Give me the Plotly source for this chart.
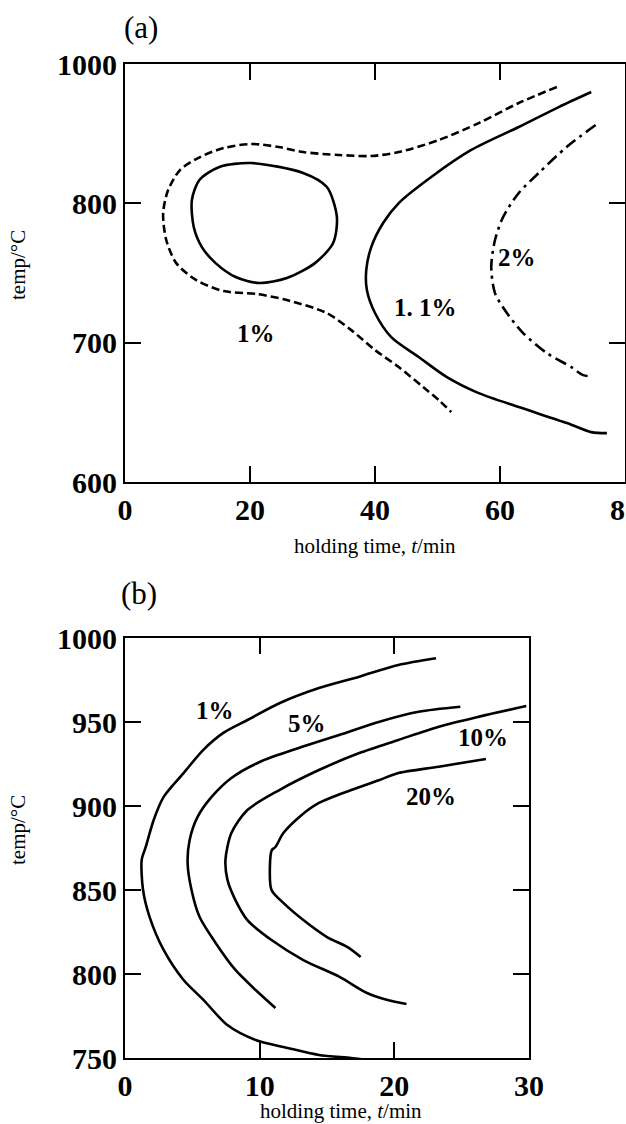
import plotly.graph_objects as go

# ---------------- Panel (a) data ----------------
# 1% dashed iso-line
a_1pct_t = [69.1, 63.0, 56.6, 50.2, 43.8, 39.4, 34.2, 28.5, 24.6, 20.2, 15.8, 12.0, 8.8, 6.9, 6.1, 6.6,
            8.2, 11.4, 15.8, 21.1, 25.9, 32.3, 36.2, 40.0, 43.8, 47.7, 50.2, 52.2]
a_1pct_T = [883.5, 872.0, 857.6, 845.4, 836.8, 834.0, 834.7, 836.8, 840.4, 842.6, 839.7, 833.2, 823.9, 809.5, 793.0, 773.7,
            757.1, 744.9, 737.0, 734.9, 730.6, 721.2, 709.0, 694.7, 682.5, 668.1, 658.8, 650.2]
# closed solid island
a_loop_t = [20.2, 28.5, 32.3, 33.9, 33.3, 30.4, 25.9, 21.5, 17.7, 14.5, 12.3, 11.0, 10.7, 11.9, 15.1, 20.2]
a_loop_T = [828.9, 821.8, 811.7, 790.2, 771.5, 757.1, 746.4, 742.8, 747.1, 757.1, 768.6, 783.0, 802.4, 816.7, 826.1, 828.9]
# 1.1% solid
a_11pct_t = [74.6, 69.4, 63.0, 55.4, 49.0, 43.8, 41.3, 39.4, 38.6, 38.7, 40.0, 42.6, 47.0, 51.5, 56.6, 63.0, 70.7, 74.6, 77.1]
a_11pct_T = [879.9, 869.1, 854.8, 838.3, 818.9, 800.2, 785.9, 768.6, 752.1, 737.8, 721.3, 704.0, 689.7, 675.3, 663.8, 653.8, 642.3, 635.8, 635.1]
# 2% dash-dot
a_2pct_t = [75.3, 70.7, 66.2, 63.0, 60.5, 59.2, 58.6, 59.2, 61.1, 63.7, 67.5, 71.4, 73.3, 74.7]
a_2pct_T = [856.2, 840.6, 821.8, 807.4, 790.2, 773.7, 754.3, 735.6, 721.3, 706.9, 692.5, 682.5, 676.7, 676.0]

a_labels = ["2%", "1. 1%", "1%"]
a_label_t = [62.7, 48.0, 20.9]
a_label_T = [761.4, 725.6, 706.9]

a_xticks = [0, 20, 40, 60, 80]
a_yticks = [600, 700, 800, 900]
a_yticktext = ["600", "700", "800", "1000"]

# ---------------- Panel (b) data ----------------
b_1_t = [23.1, 20.3, 17.4, 14.4, 11.5, 9.1, 7.3, 5.8, 4.35, 2.87, 2.13, 1.54, 1.24, 1.34, 1.83, 2.87, 4.35, 5.84,
         7.6, 9.7, 12.06, 14.4, 16.8, 18.0]
b_1_T = [987.9, 983.9, 977.0, 970.2, 961.3, 951.2, 943.5, 933.3, 919.6, 905.4, 891.7, 875.6, 867.9, 850.0, 833.9, 814.3,
         796.4, 784.5, 769.6, 760.7, 756.0, 751.8, 750.0, 748.8]
b_5_t = [24.9, 21.8, 18.9, 15.9, 12.9, 10.0, 7.9, 6.43, 5.39, 4.80, 4.65, 4.94, 5.54, 6.73, 8.2, 9.7, 11.17]
b_5_T = [959.1, 956.1, 950.2, 942.3, 934.5, 926.2, 916.7, 905.4, 893.5, 879.8, 866.1, 850.0, 833.9, 818.5, 802.4, 790.5, 779.8]
b_10_t = [29.8, 26.3, 23.3, 20.3, 17.4, 14.4, 11.46, 9.09, 7.9, 7.46, 7.61, 8.2, 9.09, 10.88, 13.24, 15.9, 17.97, 19.5, 20.9]
b_10_T = [959.5, 953.2, 947.2, 939.3, 931.5, 921.4, 909.5, 897.6, 883.9, 867.9, 856.0, 844.0, 832.1, 820.2, 808.3, 798.4,
          788.7, 784.5, 782.1]
b_20_t = [26.8, 23.3, 20.3, 18.9, 16.8, 14.4, 12.95, 11.76, 11.17, 10.9, 10.76, 10.88, 11.76, 13.24, 15.0, 16.5, 17.5]
b_20_T = [928.0, 923.4, 919.6, 915.5, 909.5, 901.8, 893.5, 883.9, 875.6, 873.8, 863.7, 850.0, 842.3, 832.1, 822.0, 816.1, 810.1]

b_labels = ["1%", "5%", "10%", "20%"]
b_label_t = [6.7, 13.5, 26.6, 22.7]
b_label_T = [957.1, 949.4, 940.5, 905.4]

b_xticks = [0, 10, 20, 30]
b_yticks = [750, 800, 850, 900, 950, 1000]

# ---------------- figure ----------------
W, H = 626, 1124
SERIF = "Liberation Serif"
fig = go.Figure()


def add_line(x, y, xa, ya, dash="solid", smooth=0.8):
    fig.add_trace(go.Scatter(
        x=x, y=y, xaxis=xa, yaxis=ya, mode="lines",
        line=dict(color="black", width=2.6, dash=dash, shape="spline", smoothing=smooth),
        showlegend=False, hoverinfo="skip"))


add_line(a_1pct_t, a_1pct_T, "x", "y", dash="8px,4px")
add_line(a_loop_t, a_loop_T, "x", "y")
add_line(a_11pct_t, a_11pct_T, "x", "y")
add_line(a_2pct_t, a_2pct_T, "x", "y", dash="12px,5px,3px,5px")

add_line(b_1_t, b_1_T, "x2", "y2")
add_line(b_5_t, b_5_T, "x2", "y2")
add_line(b_10_t, b_10_T, "x2", "y2")
add_line(b_20_t, b_20_T, "x2", "y2")

tickfont = dict(family=SERIF, size=30, color="black", weight="bold")
axis_common = dict(
    showgrid=False, zeroline=False, showline=True, linecolor="black", linewidth=2,
    mirror="ticks", ticks="inside", ticklen=16, tickwidth=2, tickcolor="black",
    tickfont=tickfont, fixedrange=True, automargin=False, ticklabeloverflow="allow",
)

fig.update_layout(
    width=W, height=H,
    margin=dict(l=0, r=0, t=0, b=0, autoexpand=False),
    paper_bgcolor="white", plot_bgcolor="white",
    xaxis=dict(domain=[125 / W, 625 / W], range=[0, 80], tickvals=a_xticks, anchor="y", **axis_common),
    yaxis=dict(domain=[1 - 482 / H, 1 - 64 / H], range=[600, 900], tickvals=a_yticks,
               ticktext=a_yticktext, anchor="x", **axis_common),
    xaxis2=dict(domain=[125 / W, 529 / W], range=[0, 30], tickvals=b_xticks, anchor="y2", **axis_common),
    yaxis2=dict(domain=[1 - 1058 / H, 1 - 638 / H], range=[750, 1000], tickvals=b_yticks, anchor="x2", **axis_common),
)

annots = []
label_font = dict(family=SERIF, size=25, color="black", weight="bold")
for txt, xv, yv in zip(a_labels, a_label_t, a_label_T):
    annots.append(dict(text=txt, x=xv, y=yv, xref="x", yref="y", showarrow=False, font=label_font,
                       xanchor="center", yanchor="middle"))
for txt, xv, yv in zip(b_labels, b_label_t, b_label_T):
    annots.append(dict(text=txt, x=xv, y=yv, xref="x2", yref="y2", showarrow=False, font=label_font,
                       xanchor="center", yanchor="middle"))


def paper_text(txt, px, py, font, angle=0):
    annots.append(dict(text=txt, x=px / W, y=1 - py / H, xref="paper", yref="paper", showarrow=False,
                       font=font, textangle=angle, xanchor="center", yanchor="middle"))


title_font = dict(family=SERIF, size=31, color="black")
paper_text("(a)", 141, 27, title_font)
paper_text("(b)", 139, 593, title_font)

axis_title_font = dict(family=SERIF, size=21, color="black")
paper_text("holding time, <i>t</i>/min", 375, 546, axis_title_font)
paper_text("holding time, <i>t</i>/min", 341, 1111, axis_title_font)
paper_text("temp/°C", 18, 265, axis_title_font, -90)
paper_text("temp/°C", 18, 830, axis_title_font, -90)

fig.update_layout(annotations=annots)
fig.write_html("out.html", config={"displayModeBar": False},
               post_script="document.body.style.margin='0';document.body.style.padding='0';")
